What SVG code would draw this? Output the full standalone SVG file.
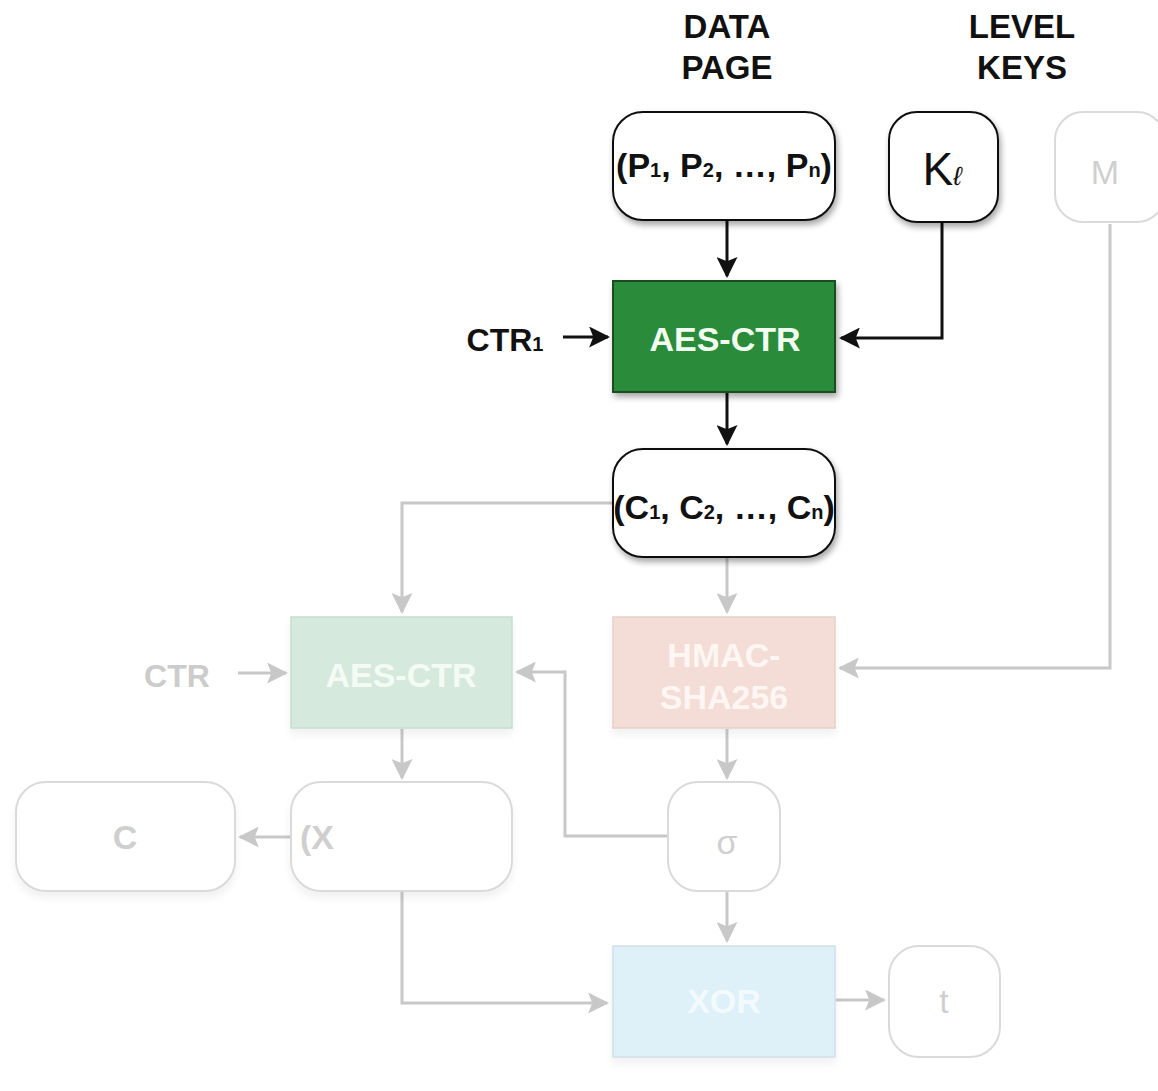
<svg xmlns="http://www.w3.org/2000/svg" width="1158" height="1091" viewBox="0 0 1158 1091">
<style>
.hdr{font-family:"Liberation Sans",Arial,sans-serif;font-weight:bold;font-size:33px;fill:#111;text-anchor:middle}
.lbl{font-family:"Liberation Sans",Arial,sans-serif;font-weight:bold;font-size:32px;fill:#111;text-anchor:middle}
.sub{font-size:20px}
.node{fill:#fff;stroke:#111;stroke-width:2}
.fnode{fill:#fff;stroke:#dadada;stroke-width:2}
.btxt{font-family:"Liberation Sans",Arial,sans-serif;font-weight:bold;font-size:34px;text-anchor:middle}
.ftxt{font-family:"Liberation Sans",Arial,sans-serif;font-size:34px;fill:#cfcfcf}
.blk{fill:none;stroke:#111;stroke-width:3}
.gry{fill:none;stroke:#c8c8c8;stroke-width:3}
</style>
<defs>
<marker id="ab" viewBox="0 0 10 10" refX="9" refY="5" markerWidth="7" markerHeight="7" markerUnits="strokeWidth" orient="auto"><path d="M0,0 L10,5 L0,10 L2,5 z" fill="#111"/></marker>
<marker id="ag" viewBox="0 0 10 10" refX="9" refY="5" markerWidth="7" markerHeight="7" markerUnits="strokeWidth" orient="auto"><path d="M0,0 L10,5 L0,10 L2,5 z" fill="#c8c8c8"/></marker>
<filter id="sh" x="-20%" y="-20%" width="140%" height="150%"><feGaussianBlur in="SourceAlpha" stdDeviation="3"/><feOffset dx="2" dy="4"/><feComponentTransfer><feFuncA type="linear" slope="0.35"/></feComponentTransfer><feMerge><feMergeNode/><feMergeNode in="SourceGraphic"/></feMerge></filter>
<filter id="fsh" x="-20%" y="-20%" width="140%" height="150%"><feGaussianBlur in="SourceAlpha" stdDeviation="4"/><feOffset dx="0" dy="6"/><feComponentTransfer><feFuncA type="linear" slope="0.06"/></feComponentTransfer><feMerge><feMergeNode/><feMergeNode in="SourceGraphic"/></feMerge></filter>
</defs>
<rect width="1158" height="1091" fill="#fff"/>

<g id="headers">
<text class="hdr" x="727" y="38">DATA</text>
<text class="hdr" x="727" y="79">PAGE</text>
<text class="hdr" x="1022" y="38">LEVEL</text>
<text class="hdr" x="1022" y="79">KEYS</text>
</g>

<g id="connectors">
<path class="blk" d="M727,221 V276" marker-end="url(#ab)"/>
<path class="blk" d="M942,223 V338 H841" marker-end="url(#ab)"/>
<path class="blk" d="M563,337 H608" marker-end="url(#ab)"/>
<path class="blk" d="M727,393 V444" marker-end="url(#ab)"/>
<path class="gry" d="M613,503 H402 V612" marker-end="url(#ag)"/>
<path class="gry" d="M727,558 V612" marker-end="url(#ag)"/>
<path class="gry" d="M1110,224 V668 H840" marker-end="url(#ag)"/>
<path class="gry" d="M238,673 H286" marker-end="url(#ag)"/>
<path class="gry" d="M669,836 H565 V672 H517" marker-end="url(#ag)"/>
<path class="gry" d="M402,729 V778" marker-end="url(#ag)"/>
<path class="gry" d="M727,729 V778" marker-end="url(#ag)"/>
<path class="gry" d="M291,837 H240" marker-end="url(#ag)"/>
<path class="gry" d="M727,892 V941" marker-end="url(#ag)"/>
<path class="gry" d="M402,892 V1003 H607" marker-end="url(#ag)"/>
<path class="gry" d="M836,1000 H884" marker-end="url(#ag)"/>
</g>

<g id="n-p">
<rect class="node" filter="url(#sh)" x="613" y="112" width="222" height="108" rx="30"/>
<text class="btxt" x="724" y="177" fill="#111">(P<tspan class="sub">1</tspan>, P<tspan class="sub">2</tspan>, …, P<tspan class="sub">n</tspan>)</text>
</g>
<g id="n-k">
<rect class="node" filter="url(#sh)" x="889" y="112" width="109" height="110" rx="28"/>
<text x="942" y="185" font-family="Liberation Sans,Arial,sans-serif" font-size="46" fill="#111" text-anchor="middle">K<tspan font-size="26" font-style="italic">ℓ</tspan></text>
</g>
<g id="n-m">
<rect class="fnode" x="1055" y="112" width="110" height="110" rx="28"/>
<text class="ftxt" x="1105" y="184" font-size="44" text-anchor="middle">M</text>
</g>

<g id="n-aes1">
<rect filter="url(#sh)" x="613" y="281" width="222" height="111" fill="#2b8b3b" stroke="#1a4d22" stroke-width="2"/>
<text class="btxt" x="725" y="351" fill="#f2fff0">AES-CTR</text>
</g>
<g id="n-ctr1">
<text class="lbl" x="505" y="351">CTR<tspan class="sub">1</tspan></text>
</g>

<g id="n-c">
<rect class="node" filter="url(#sh)" x="613" y="449" width="222" height="108" rx="30"/>
<text class="btxt" x="724" y="519" fill="#111">(C<tspan class="sub">1</tspan>, C<tspan class="sub">2</tspan>, …, C<tspan class="sub">n</tspan>)</text>
</g>

<g id="n-ctr">
<text class="lbl" x="177" y="687" style="fill:#cccccc">CTR</text>
</g>
<g id="n-aes2">
<rect filter="url(#fsh)" x="291" y="617" width="221" height="111" fill="#d5eadc" stroke="#c9dccf" stroke-width="1.5"/>
<text class="btxt" x="401" y="687" fill="#f4fbf5">AES-CTR</text>
</g>
<g id="n-hmac">
<rect filter="url(#fsh)" x="613" y="617" width="222" height="111" fill="#f3ddd6" stroke="#e6d0c9" stroke-width="1.5"/>
<text class="btxt" x="724" y="667" fill="#fdf6f3">HMAC-</text>
<text class="btxt" x="724" y="709" fill="#fdf6f3">SHA256</text>
</g>

<g id="n-cc">
<rect class="fnode" filter="url(#fsh)" x="16" y="782" width="219" height="109" rx="30"/>
<text class="ftxt" x="125" y="849" font-weight="bold" font-size="30" text-anchor="middle">C</text>
</g>
<g id="n-x">
<rect class="fnode" filter="url(#fsh)" x="291" y="782" width="221" height="109" rx="30"/>
<text class="ftxt" x="300" y="849" font-weight="bold" font-size="30">(X</text>
</g>
<g id="n-sigma">
<rect class="fnode" x="668" y="782" width="112" height="109" rx="30"/>
<text class="ftxt" x="727" y="854" font-size="42" text-anchor="middle">σ</text>
</g>

<g id="n-xor">
<rect filter="url(#fsh)" x="613" y="946" width="222" height="111" fill="#def0f8" stroke="#cfe0e8" stroke-width="1.5"/>
<text class="btxt" x="724" y="1013" fill="#f3fafd">XOR</text>
</g>
<g id="n-t">
<rect class="fnode" x="889" y="946" width="111" height="111" rx="30"/>
<text class="ftxt" x="944" y="1013" font-size="30" text-anchor="middle">t</text>
</g>
</svg>
